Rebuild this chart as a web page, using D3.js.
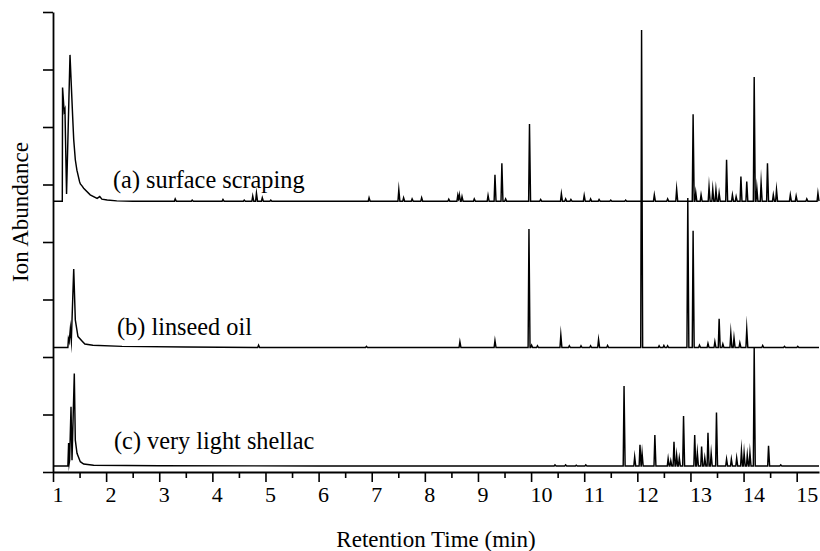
<!DOCTYPE html>
<html><head><meta charset="utf-8">
<script src="https://cdn.jsdelivr.net/npm/d3@7"></script>
<style>body{margin:0;background:#fff}svg{display:block}</style>
</head><body><svg id="c" width="820" height="551"></svg>
<script>
// ---------- data ----------
const xTicks = [1,2,3,4,5,6,7,8,9,10,11,12,13,14,15];
const xMinorTicks = [1.5,2.5,3.5,4.5,5.5,6.5,7.5,8.5,9.5,10.5,11.5,12.5,13.5,14.5];
const yTicks = [0,1,2,3,4,5,6,7,8];
const traceNames = ["(a) surface scraping", "(b) linseed oil", "(c) very light shellac"];
const traceOffsets = [4.71, 2.165, 0.104];

// solvent front / baseline drift (time, abundance above trace baseline)
const solventA = [[1.0,0],[1.175,0],[1.18,1.976],[1.21,1.56],[1.225,1.60],[1.255,0.127],[1.32,2.544],[1.37,1.47],[1.39,1.07],[1.42,0.72],[1.45,0.54],[1.50,0.34],[1.515,0.30],[1.546,0.266],[1.577,0.226],[1.70,0.11],[1.83,0.05],[1.88,0.08],[1.92,0.035],[2.02,0.02],[2.2,0.005],[2.5,0]];
const solventB = [[1.0,0],[1.28,0],[1.29,0.15],[1.305,0.10],[1.327,0.33],[1.345,0.12],[1.39,1.365],[1.42,0.48],[1.47,0.19],[1.55,0.11],[1.6,0.06],[1.75,0.04],[2.3,0.02],[3.5,0.01],[5.0,0]];
const solventC = [[1.0,0],[1.28,0],[1.294,0.40],[1.305,0.05],[1.313,0.10],[1.339,1.03],[1.358,0.10],[1.401,1.61],[1.42,0.45],[1.452,0.22],[1.514,0.075],[1.577,0.035],[1.765,0.012],[3.0,0.006],[6.0,0]];

// discrete peaks (retention time, height)
const peaksA = [[3.3,0.04],[3.62,0.02],[4.2,0.03],[4.6,0.02],[4.76,0.09],[4.83,0.14],[4.94,0.06],[5.1,0.02],[6.95,0.06],[7.51,0.20],[7.6,0.06],[7.76,0.04],[7.94,0.06],[8.45,0.035],[8.62,0.10],[8.65,0.11],[8.7,0.08],[8.93,0.04],[9.19,0.10],[9.32,0.46],[9.45,0.66],[9.52,0.04],[9.97,1.34],[10.18,0.03],[10.57,0.13],[10.65,0.04],[10.75,0.03],[11.0,0.10],[11.12,0.04],[11.28,0.03],[11.5,0.02],[11.78,0.02],[12.32,0.11],[12.57,0.04],[12.74,0.21],[13.05,1.51],[13.10,0.15],[13.20,0.11],[13.35,0.25],[13.42,0.21],[13.48,0.20],[13.54,0.14],[13.68,0.72],[13.79,0.11],[13.86,0.08],[13.95,0.43],[14.06,0.34],[14.2,2.16],[14.25,0.23],[14.33,0.32],[14.45,0.66],[14.56,0.11],[14.62,0.20],[14.88,0.11],[14.99,0.09],[15.19,0.04],[15.4,0.14]];
const peaksB = [[4.87,0.04],[6.9,0.02],[8.66,0.10],[9.32,0.12],[9.96,2.06],[10.01,0.04],[10.12,0.03],[10.56,0.22],[10.72,0.03],[10.94,0.03],[11.12,0.03],[11.27,0.14],[11.44,0.035],[12.08,5.52],[12.41,0.03],[12.5,0.035],[12.57,0.03],[12.95,2.6],[13.05,2.03],[13.17,0.04],[13.33,0.07],[13.46,0.10],[13.54,0.50],[13.61,0.06],[13.76,0.25],[13.82,0.17],[13.93,0.08],[14.06,0.32],[14.36,0.035],[14.77,0.02],[15.02,0.02]];
const peaksC = [[10.45,0.02],[10.65,0.02],[10.85,0.015],[11.03,0.02],[11.75,1.39],[11.95,0.16],[12.05,0.37],[12.09,0.22],[12.33,0.54],[12.58,0.13],[12.63,0.09],[12.69,0.42],[12.74,0.19],[12.79,0.14],[12.87,0.87],[13.08,0.54],[13.13,0.23],[13.21,0.34],[13.27,0.14],[13.33,0.58],[13.39,0.22],[13.49,0.93],[13.68,0.12],[13.77,0.12],[13.87,0.14],[13.96,0.27],[14.01,0.23],[14.07,0.19],[14.12,0.23],[14.2,2.07],[14.47,0.35],[14.7,0.02]];

const xTitle = "Retention Time (min)";
const yTitle = "Ion Abundance";

// ---------- drawing ----------
const svg = d3.select("#c");
const x = d3.scaleLinear().domain([1, 15.42]).range([53, 819]);
const y = d3.scaleLinear().domain([0, 8]).range([472, 12]);
const FONT = "'Liberation Serif','Times New Roman',serif";

function buildTrace(solvent, peaks, offset) {
  const wl = 0.016, wr = 0.02;
  const base = t => {
    if (t >= solvent[solvent.length-1][0]) return 0;
    for (let i = 1; i < solvent.length; i++) {
      if (t <= solvent[i][0]) {
        const [t0,v0] = solvent[i-1], [t1,v1] = solvent[i];
        return v0 + (v1 - v0) * (t - t0) / (t1 - t0);
      }
    }
    return 0;
  };
  const tri = (t, p) => {
    const [tp, h] = p;
    if (t <= tp - wl || t >= tp + wr) return 0;
    return t <= tp ? h * (t - (tp - wl)) / wl : h * ((tp + wr) - t) / wr;
  };
  let ts = solvent.map(d => d[0]);
  peaks.forEach(p => { ts.push(p[0] - wl, p[0], p[0] + wr); });
  ts.push(15.42);
  ts = Array.from(new Set(ts)).filter(t => t >= 1 && t <= 15.42).sort((a,b) => a-b);
  return ts.map(t => [t, offset + base(t) + peaks.reduce((s,p) => s + tri(t,p), 0)]);
}

const traces = [
  buildTrace(solventA, peaksA, traceOffsets[0]),
  buildTrace(solventB, peaksB, traceOffsets[1]),
  buildTrace(solventC, peaksC, traceOffsets[2])
];

const line = d3.line().x(d => x(d[0])).y(d => y(d[1]));
svg.append("defs").append("clipPath").attr("id","clip")
  .append("rect").attr("x", 52).attr("y", 0).attr("width", 768).attr("height", 473);
const g = svg.append("g").attr("clip-path","url(#clip)");
traces.forEach(tr => {
  g.append("path").datum(tr).attr("d", line)
    .attr("fill","none").attr("stroke","#000").attr("stroke-width",1.45)
    .attr("stroke-linejoin","miter").attr("stroke-miterlimit",20);
});

// labels
const labelX = [113, 117, 114];
const labelDy = [-13, -12.5, -17];
traceNames.forEach((n, i) => {
  svg.append("text").attr("x", labelX[i]).attr("y", y(traceOffsets[i]) + labelDy[i])
    .attr("font-family", FONT).attr("font-size", 24.3).attr("fill","#000").text(n);
});

// axes
const xAxis = d3.axisBottom(x).tickValues(xTicks).tickSize(10).tickSizeOuter(0).tickFormat(d3.format("d"));
const gx = svg.append("g").attr("transform","translate(0,472)").call(xAxis);
gx.selectAll(".tick text").attr("font-family", FONT).attr("font-size", 22)
  .attr("text-anchor","start").attr("x", -1).attr("dy","0.32em").attr("y", 23);
gx.selectAll("line").attr("stroke-width",1.6);
gx.select(".domain").attr("stroke-width",1.8);
const gxm = svg.append("g").attr("transform","translate(0,472)")
  .call(d3.axisBottom(x).tickValues(xMinorTicks).tickSize(6).tickSizeOuter(0).tickFormat(""));
gxm.select(".domain").remove();
gxm.selectAll("line").attr("stroke-width",1.6);

const yAxis = d3.axisLeft(y).tickValues(yTicks).tickSize(10).tickSizeOuter(0).tickFormat("");
const gy = svg.append("g").attr("transform","translate(53,0)").call(yAxis);
gy.selectAll("line").attr("stroke-width",1.6);
gy.select(".domain").attr("stroke-width",1.8);

svg.append("text").attr("x", 436).attr("y", 547).attr("text-anchor","middle")
  .attr("font-family", FONT).attr("font-size", 23).text(xTitle);
svg.append("text").attr("transform","translate(28,212) rotate(-90)").attr("text-anchor","middle")
  .attr("font-family", FONT).attr("font-size", 23).text(yTitle);
</script></body></html>
